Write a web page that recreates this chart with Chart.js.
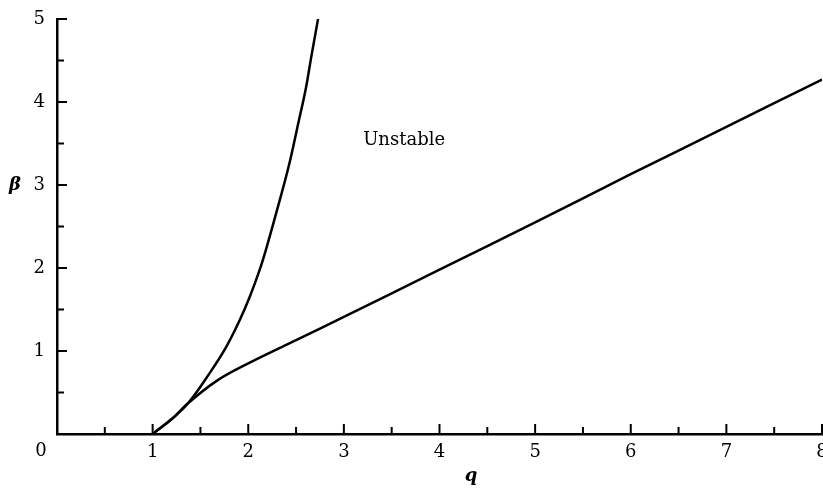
<!DOCTYPE html>
<html>
<head>
<meta charset="utf-8">
<script src="https://cdn.jsdelivr.net/npm/chart.js@4"></script>
<style>
  html, body { margin: 0; padding: 0; background: #fff; }
  #wrap { width: 823px; height: 490px; }
</style>
</head>
<body>
<div id="wrap"><canvas id="myChart"></canvas></div>
<script>
// steep branch of the boundary
const steepQ = [1, 1.2, 1.37, 1.6, 1.77, 1.91, 2.015, 2.12, 2.19, 2.33, 2.43, 2.53, 2.6, 2.66, 2.73];
const steepBeta = [0, 0.18, 0.37, 0.74, 1.05, 1.37, 1.65, 1.98, 2.24, 2.82, 3.26, 3.78, 4.15, 4.55, 5.0];

// flatter branch
const flatQ = [1, 1.2, 1.37, 1.67, 2.0, 2.5, 3, 4, 5, 6, 7, 8];
const flatBeta = [0, 0.18, 0.37, 0.64, 0.85, 1.13, 1.41, 1.98, 2.55, 3.13, 3.7, 4.27];

const xTicks = [0, 1, 2, 3, 4, 5, 6, 7, 8];
const yTicks = [0, 1, 2, 3, 4, 5];
const regionLabel = { text: 'Unstable', q: 3.63, beta: 3.54 };

const serif = '"DejaVu Serif", "Liberation Serif", serif';

function toPoints(xs, ys) {
    return xs.map((x, i) => ({ x: x, y: ys[i] }));
}

// inward tick marks, free labels
const decorPlugin = {
    id: 'decor',
    afterDraw(chart) {
        const ctx = chart.ctx;
        const xs = chart.scales.x;
        const ys = chart.scales.y;
        const area = chart.chartArea;
        ctx.save();
        ctx.strokeStyle = '#000';
        ctx.lineWidth = 2;
        xs.ticks.forEach(t => {
            if (t.value === 0) return;
            const px = xs.getPixelForValue(t.value);
            const len = Number.isInteger(t.value) ? 10 : 7;
            ctx.beginPath();
            ctx.moveTo(px, area.bottom);
            ctx.lineTo(px, area.bottom - len);
            ctx.stroke();
        });
        ys.ticks.forEach(t => {
            if (t.value === 0) return;
            const py = ys.getPixelForValue(t.value);
            const len = Number.isInteger(t.value) ? 10 : 7;
            ctx.beginPath();
            ctx.moveTo(area.left, py);
            ctx.lineTo(area.left + len, py);
            ctx.stroke();
        });

        ctx.fillStyle = '#000';
        ctx.font = '18px ' + serif;
        ctx.textAlign = 'center';
        ctx.textBaseline = 'middle';
        ctx.fillText(regionLabel.text, xs.getPixelForValue(regionLabel.q), ys.getPixelForValue(regionLabel.beta));
        ctx.fillText('0', 41, 451);

        ctx.font = 'italic bold 18px ' + serif;
        ctx.fillText('β', 15, 185);
        ctx.fillText('q', 471, 476);
        ctx.restore();
    }
};

const chart = new Chart(document.getElementById('myChart'), {
    type: 'scatter',
    data: {
        datasets: [
            {
                label: 'steep',
                data: toPoints(steepQ, steepBeta),
                showLine: true,
                borderColor: '#000',
                borderWidth: 2.5,
                pointRadius: 0,
                tension: 0.4
            },
            {
                label: 'flat',
                data: toPoints(flatQ, flatBeta),
                showLine: true,
                borderColor: '#000',
                borderWidth: 2.5,
                pointRadius: 0,
                tension: 0.4
            }
        ]
    },
    options: {
        responsive: true,
        maintainAspectRatio: false,
        animation: false,
        layout: { padding: { top: 19, right: 1, left: 0, bottom: 0 } },
        plugins: {
            legend: { display: false },
            tooltip: { enabled: false }
        },
        scales: {
            x: {
                type: 'linear',
                min: 0,
                max: 8,
                grid: { display: false, drawTicks: false },
                border: { display: true, color: '#000', width: 2.5 },
                ticks: {
                    stepSize: 0.5,
                    padding: 8,
                    color: '#000',
                    font: { family: serif, size: 18 },
                    callback: v => (Number.isInteger(v) && v !== 0) ? String(v) : ''
                },
                afterFit: s => { s.height = 56; s.paddingLeft = 0; s.paddingRight = 0; }
            },
            y: {
                type: 'linear',
                min: 0,
                max: 5,
                grid: { display: false, drawTicks: false },
                border: { display: true, color: '#000', width: 2.5 },
                ticks: {
                    stepSize: 0.5,
                    padding: 12,
                    color: '#000',
                    font: { family: serif, size: 18 },
                    callback: v => (Number.isInteger(v) && v !== 0) ? String(v) : ''
                },
                afterFit: s => { s.width = 57; s.paddingTop = 0; s.paddingBottom = 0; }
            }
        }
    },
    plugins: [decorPlugin]
});
</script>
</body>
</html>
